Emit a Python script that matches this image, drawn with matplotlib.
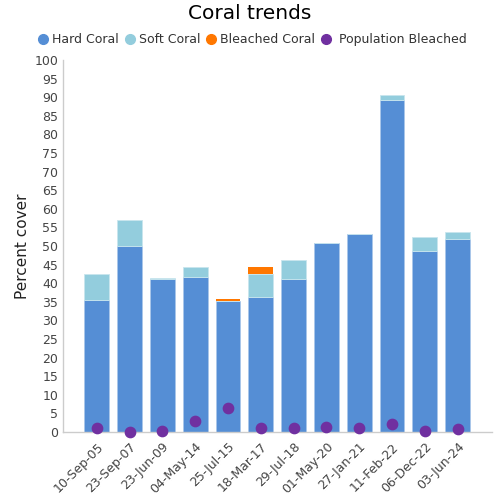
import matplotlib
matplotlib.use("Agg")
import matplotlib.pyplot as plt
import numpy as np
from matplotlib.lines import Line2D

dates = ["10-Sep-05", "23-Sep-07", "23-Jun-09", "04-May-14", "25-Jul-15", "18-Mar-17",
         "29-Jul-18", "01-May-20", "27-Jan-21", "11-Feb-22", "06-Dec-22", "03-Jun-24"]
hard = [35.6, 50.0, 41.1, 41.8, 35.1, 36.2, 41.1, 50.7, 53.2, 89.2, 48.7, 51.9]
soft = [6.9, 7.0, 0.2, 2.6, 0.0, 6.3, 5.1, 0.0, 0.0, 1.5, 3.8, 1.9]
bleached = [0.0, 0.0, 0.0, 0.0, 0.7, 1.9, 0.0, 0.0, 0.0, 0.0, 0.0, 0.0]
pop_bleached = [1.2, 0.1, 0.3, 3.0, 6.5, 1.1, 1.1, 1.3, 1.1, 2.1, 0.3, 0.8]

c_hard = "#558ED5"
c_soft = "#93CDDD"
c_bl = "#FF7700"
c_pop = "#7030A0"

fig = plt.figure(figsize=(5, 5), dpi=100)
ax = fig.add_axes([0.126, 0.136, 0.858, 0.744])
x = np.arange(len(dates))
w = 0.76
hard_a = np.array(hard); soft_a = np.array(soft); bl_a = np.array(bleached)
ax.bar(x, hard_a, w, color=c_hard, edgecolor="#A9C6EA", linewidth=0.6, zorder=2)
ax.bar(x, soft_a, w, bottom=hard_a, color=c_soft, edgecolor="#C9E6EE", linewidth=0.6, zorder=2)
ax.bar(x, bl_a, w, bottom=hard_a + soft_a, color=c_bl, edgecolor="none", zorder=2)
ax.scatter(x, pop_bleached, s=55, color=c_pop, zorder=3, clip_on=False)

ax.set_xlim(-1.03, 12.05)
ax.set_ylim(0, 100)
ax.set_yticks(np.arange(0, 101, 5))
ax.set_xticks(x)
ax.set_xticklabels(dates, rotation=45, ha="right", rotation_mode="anchor")
ax.tick_params(axis="both", length=0, labelsize=9, colors="#444444")
ax.tick_params(axis="x", pad=6)
for s in ["top", "right"]:
    ax.spines[s].set_visible(False)
for s in ["left", "bottom"]:
    ax.spines[s].set_color("#CCCCCC")
    ax.spines[s].set_linewidth(1)
ax.set_ylabel("Percent cover", fontsize=11, color="#222222", labelpad=3)

fig.text(0.5, 0.973, "Coral trends", ha="center", va="center", fontsize=14.5, color="black")

handles = [Line2D([], [], marker="o", linestyle="none", markersize=7, color=c) for c in [c_hard, c_soft, c_bl, c_pop]]
labels = ["Hard Coral", "Soft Coral", "Bleached Coral", " Population Bleached"]
fig.legend(handles, labels, loc="center", bbox_to_anchor=(0.5, 0.921), ncol=4, frameon=False,
           fontsize=9, handletextpad=-0.1, columnspacing=0.1, handlelength=1.6, labelcolor="#333333")

fig.savefig("out.png", dpi=100)
